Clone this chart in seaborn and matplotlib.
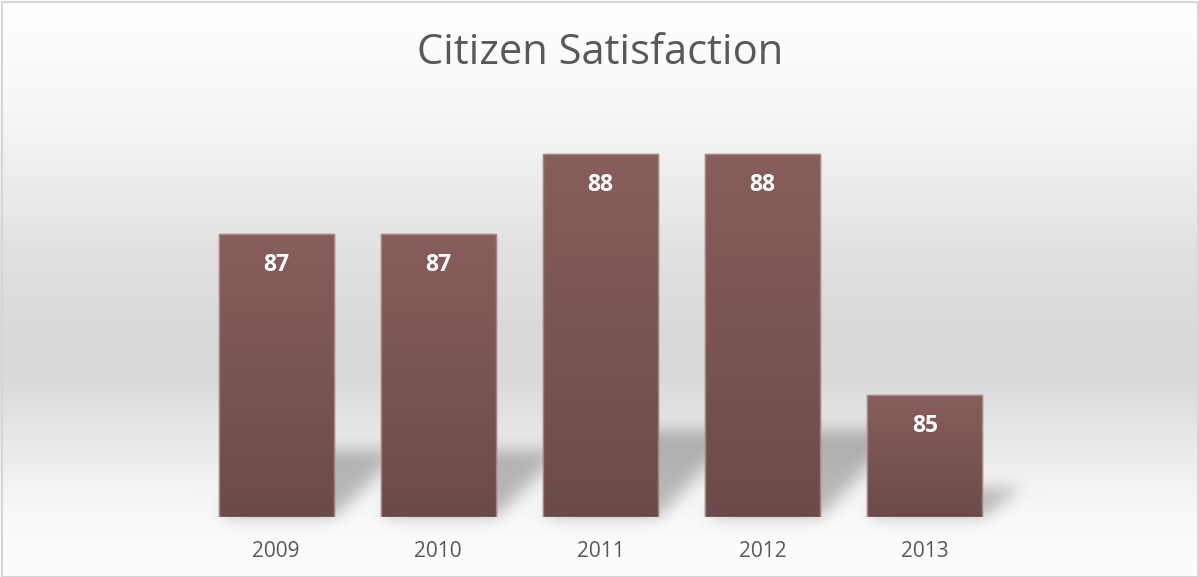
import numpy as np
import matplotlib
matplotlib.use("Agg")
import matplotlib.pyplot as plt
from matplotlib.patches import Rectangle
import seaborn as sns

# Data
years = ["2009", "2010", "2011", "2012", "2013"]
satisfaction = [87, 87, 88, 88, 85]
title = "Citizen Satisfaction"

W, H, DPI = 1199, 577, 100
sns.set_theme(style="white")
plt.rcParams["font.family"] = ["Open Sans", "DejaVu Sans"]

fig = plt.figure(figsize=(W / DPI, H / DPI), dpi=DPI)
fig.patch.set_facecolor("white")

# Main plotting axes (transparent, drawn over a painted background)
ax_left, ax_right = 195, 1006
ax_bottom_px, px_per_unit = 517, 80.3
y_min, y_max = 83.48, 89.2
ax_h = (y_max - y_min) * px_per_unit
ax = fig.add_axes([ax_left / W, (H - ax_bottom_px) / H,
                   (ax_right - ax_left) / W, ax_h / H], zorder=2)
ax.set_facecolor("none")

sns.barplot(x=years, y=satisfaction, width=0.71, color="#7a5553",
            edgecolor="#a58886", linewidth=1.0, ax=ax, zorder=3)
ax.set_xlim(-0.5, len(years) - 0.5)
ax.set_ylim(y_min, y_max)
bars = list(ax.patches)

# Vertical gradient inside each bar
top_c = np.array([0x88, 0x5e, 0x5c]) / 255
bot_c = np.array([0x6b, 0x4b, 0x49]) / 255
t = np.linspace(0, 1, 256)[:, None]
grad = (top_c * (1 - t) + bot_c * t)[:, None, :]
for p in bars:
    x0, w = p.get_x(), p.get_width()
    y1 = p.get_y() + p.get_height()
    im = ax.imshow(grad, extent=[x0, x0 + w, y_min, y1], origin="upper",
                   aspect="auto", zorder=3.5, interpolation="bilinear")
    im.set_clip_path(p)
    edge = Rectangle((x0, y_min), w, y1 - y_min, fill=False,
                     edgecolor="#a58886", linewidth=1.0, zorder=3.6)
    ax.add_patch(edge)
ax.set_xlim(-0.5, len(years) - 0.5)
ax.set_ylim(y_min, y_max)

# Value labels inside the bar tops
for i, v in enumerate(satisfaction):
    ax.annotate(f"{v}", xy=(i, v), xytext=(0, -31 * 72 / DPI),
                textcoords="offset points", ha="center", va="center",
                color="white", fontsize=16.5, fontweight="bold", zorder=5)

ax.set_xlabel("")
ax.set_ylabel("")
ax.set_yticks([])
ax.tick_params(axis="x", length=0, pad=17, labelsize=15, labelcolor="#595959")
for s in ax.spines.values():
    s.set_visible(False)

# Background: soft vertical gradient with blurred perspective shadows of the bars
rows = np.arange(H)
stops_y = [0, 100, 200, 250, 340, 375, 430, 470, 520, 577]
stops_v = [255, 248, 234, 225, 217, 217, 230, 240, 250, 253]
col = np.interp(rows, stops_y, stops_v) / 255.0
bg = np.repeat(col[:, None], W, axis=1)

yy, xx = np.mgrid[0:H, 0:W]
mask = np.zeros((H, W))
for p in bars:
    x0, w = p.get_x(), p.get_width()
    top = p.get_y() + p.get_height()
    (px0, py0), (px1, py1) = ax.transData.transform([(x0, y_min), (x0 + w, top)])
    L, R = px0, px1
    B = H - py0
    hpx = py1 - py0
    s = 0.24 * hpx
    d = 0.75 * s
    widen = 16.0
    up = B - yy                     # height above the base
    inside = (up >= 0) & (up <= s)
    f = up / max(s, 1e-6)
    inside &= (xx >= L + f * d) & (xx <= R + f * (d + widen))
    mask = np.maximum(mask, inside.astype(float))

def blur(a, sigma):
    r = int(3 * sigma)
    k = np.exp(-0.5 * (np.arange(-r, r + 1) / sigma) ** 2)
    k /= k.sum()
    a = np.apply_along_axis(lambda m: np.convolve(m, k, mode="same"), 0, a)
    a = np.apply_along_axis(lambda m: np.convolve(m, k, mode="same"), 1, a)
    return a

mask = blur(mask, 8)
bg = bg * (1 - 0.25 * mask)
img = np.dstack([bg, bg, bg])

bg_ax = fig.add_axes([0, 0, 1, 1], zorder=0)
bg_ax.imshow(img, extent=[0, 1, 0, 1], aspect="auto", origin="upper",
             interpolation="nearest")
bg_ax.set_axis_off()

# Chart border
fig.patches.append(Rectangle((1.5 / W, 0.5 / H), (W - 3) / W, (H - 2) / H,
                             transform=fig.transFigure, fill=False,
                             edgecolor="#d6d6d6", linewidth=1.5, zorder=10))

fig.text(600 / W, 1 - 53 / H, title, ha="center", va="center",
         fontsize=30, color="#595959", zorder=6)

fig.savefig("out.png", dpi=DPI)
